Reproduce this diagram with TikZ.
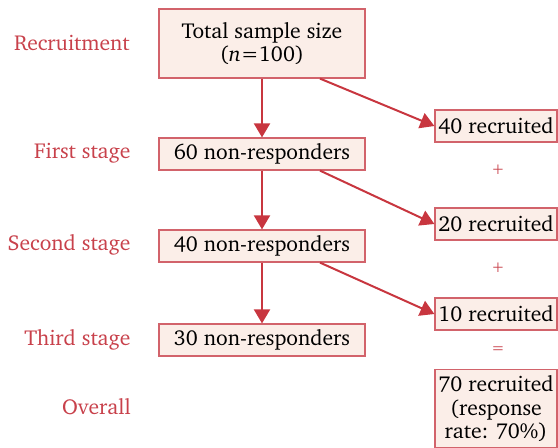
\documentclass[tikz,border=0pt]{standalone}
\usepackage[T1]{fontenc}
\usepackage{charter}
\usetikzlibrary{arrows.meta}
\definecolor{boxfill}{HTML}{FBEEE8}
\definecolor{boxline}{HTML}{D2636B}
\definecolor{arr}{HTML}{C8363F}
\definecolor{lab}{HTML}{C8414B}
\tikzset{
  box/.style={draw=boxline, fill=boxfill, line width=0.6pt, inner sep=0pt, align=center, font=\fontsize{10.8}{11.8}\selectfont},
  wide/.style={box, minimum width=103pt},
  narrow/.style={box, minimum width=61pt},
  stage/.style={text=lab, anchor=east, font=\fontsize{10.8}{12}\selectfont, inner sep=0pt},
  op/.style={text=lab, font=\fontsize{8}{10}\selectfont, inner sep=0pt},
  flow/.style={draw=arr, line width=1pt, -{Triangle[length=7pt,width=8pt]}}
}
\begin{document}
\begin{tikzpicture}[x=0.5pt,y=-0.5pt]
\useasboundingbox (0,0) rectangle (558,447);
\node[wide, minimum height=34.5pt] (total) at (262,43.5) {Total sample size\\(\textit{n}=100)};
\node[wide, minimum height=16pt] (s1) at (262,154) {60 non-responders};
\node[wide, minimum height=16pt] (s2) at (262,246) {40 non-responders};
\node[wide, minimum height=16pt] (s3) at (262,340) {30 non-responders};
\node[narrow, minimum height=16pt] (r1) at (496,126) {40 recruited};
\node[narrow, minimum height=16pt] (r2) at (496,224) {20 recruited};
\node[narrow, minimum height=16pt] (r3) at (496,314) {10 recruited};
\node[narrow, minimum height=39pt, anchor=north] (all) at (496,369) {70 recruited\\(response\\rate: 70\%)};
\node[stage] (l0) at (130,43) {Recruitment};
\node[stage] (l1) at (131,153) {First stage};
\node[stage] (l2) at (131,245) {Second stage};
\node[stage] (l3) at (131,340) {Third stage};
\node[stage] (l4) at (131,407) {Overall};
\node[op] (p1) at (498,170) {+};
\node[op] (p2) at (498,268) {+};
\node[op] (eq) at (498,350) {=};
\draw[flow] (total.south) -- (s1.north);
\draw[flow] (s1.south) -- (s2.north);
\draw[flow] (s2.south) -- (s3.north);
\draw[flow] (total.south)++(58,0) coordinate (c0) (c0) -- (r1.west);
\draw[flow] (s1.south)++(58,0) coordinate (c1) (c1) -- (r2.west);
\draw[flow] (s2.south)++(58,0) coordinate (c2) (c2) -- (r3.west);
\end{tikzpicture}
\end{document}
